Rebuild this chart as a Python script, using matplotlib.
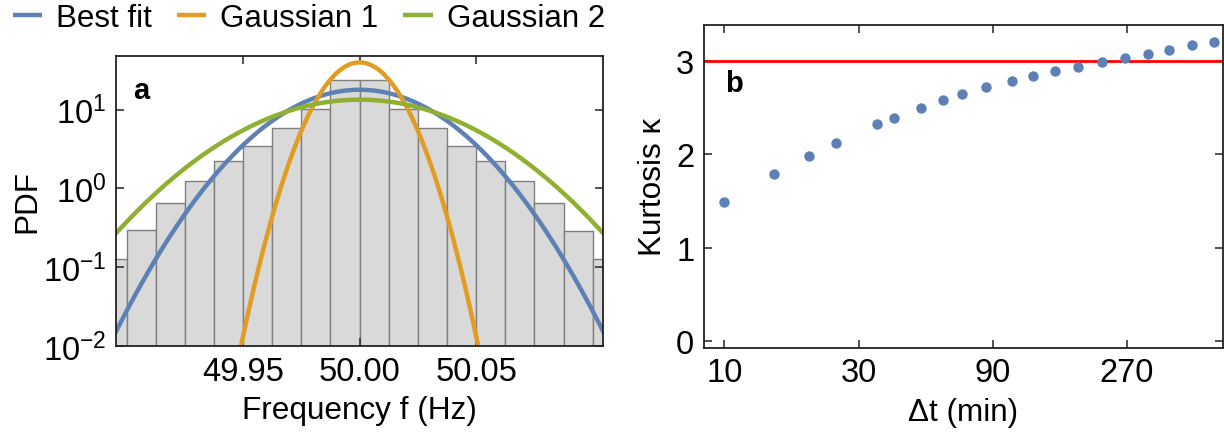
import numpy as np
import matplotlib
matplotlib.use("Agg")
import matplotlib.pyplot as plt
from matplotlib.ticker import FixedLocator, FixedFormatter, NullLocator

plt.rcParams['font.family'] = ['Liberation Sans', 'DejaVu Sans']
plt.rcParams['mathtext.default'] = 'regular'

# histogram of frequency (panel a)
f_center = 50.0
bin_width = 0.0125
pdf_heights = [0.128, 0.295, 0.66, 1.26, 2.24, 3.46, 5.84, 10.3, 23.8,
               23.8, 10.3, 5.78, 3.42, 2.21, 1.26, 0.65, 0.29, 0.128]

# fitted curves: (name, peak value, sigma)
fit_names = ['Best fit', 'Gaussian 1', 'Gaussian 2']
fit_peaks = [17.9, 39.8, 13.4]
fit_sigmas = [0.0278, 0.0125, 0.0374]
fit_colors = ['#5e81b5', '#e19c24', '#8fb032']

# kurtosis vs time window (panel b)
dt_min = [10, 15, 20, 25, 35, 40, 50, 60, 70, 85, 105, 125, 150, 180,
          220, 265, 320, 380, 460, 550]
kurtosis = [1.49, 1.787, 1.984, 2.127, 2.324, 2.396, 2.503, 2.585, 2.647,
            2.721, 2.789, 2.843, 2.897, 2.94, 2.99, 3.033, 3.08, 3.122,
            3.173, 3.212]
gauss_kurtosis = 3.0

fs_lab = 22.7
fs_tick = 23.5
fs_leg = 22.5

fig = plt.figure(figsize=(12.24, 4.35), dpi=100)
ax1 = fig.add_axes([0.0948, 0.2023, 0.398, 0.6667])
ax2 = fig.add_axes([0.5752, 0.1984, 0.4238, 0.7418])

# --- panel a
n = len(pdf_heights)
edges = f_center + bin_width * (np.arange(n + 1) - n / 2)
ax1.bar(edges[:-1], pdf_heights, width=bin_width, align='edge',
        color='#d9d9d9', edgecolor='#7f7f7f', linewidth=1.0, zorder=1)

fx = np.linspace(49.89, 50.11, 600)
for name, peak, sig, col in zip(fit_names, fit_peaks, fit_sigmas, fit_colors):
    fy = peak * np.exp(-(fx - f_center) ** 2 / (2 * sig ** 2))
    ax1.plot(fx, fy, color=col, lw=3.2, label=name, zorder=3,
             solid_capstyle='butt')

ax1.set_yscale('log')
ax1.set_xlim(49.8955, 50.1045)
ax1.set_ylim(0.01, 48)
ax1.yaxis.set_major_locator(FixedLocator([0.01, 0.1, 1, 10]))
ax1.yaxis.set_major_formatter(FixedFormatter(['$10^{-2}$', '$10^{-1}$', '$10^{0}$', '$10^{1}$']))
ax1.yaxis.set_minor_locator(NullLocator())
ax1.set_xticks([49.95, 50.00, 50.05])
ax1.set_xticklabels(['49.95', '50.00', '50.05'])
ax1.set_xlabel('Frequency f (Hz)', fontsize=fs_lab, labelpad=6)
ax1.set_ylabel('PDF', fontsize=fs_lab, labelpad=0)
ax1.text(0.035, 0.93, 'a', transform=ax1.transAxes, fontsize=21,
         fontweight='bold', va='top', ha='left')

leg = fig.legend(loc='upper left', bbox_to_anchor=(-0.005, 1.035), ncol=3,
                 fontsize=fs_leg, frameon=False, handlelength=0.95,
                 handletextpad=0.45, columnspacing=0.78, borderaxespad=0.2)

# --- panel b
ax2.plot(dt_min, kurtosis, 'o', color='#5e81b5', ms=7.5, mec='none', zorder=3)
ax2.axhline(gauss_kurtosis, color='#ff0000', lw=2, zorder=2)
ax2.set_xscale('log')
ax2.set_xlim(8.47, 591)
ax2.set_ylim(-0.075, 3.39)
ax2.xaxis.set_major_locator(FixedLocator([10, 30, 90, 270]))
ax2.xaxis.set_major_formatter(FixedFormatter(['10', '30', '90', '270']))
ax2.xaxis.set_minor_locator(NullLocator())
ax2.set_yticks([0, 1, 2, 3])
ax2.set_xlabel('Δt (min)', fontsize=fs_lab, labelpad=6)
ax2.set_ylabel('Kurtosis κ', fontsize=fs_lab, labelpad=6)
ax2.text(0.04, 0.865, 'b', transform=ax2.transAxes, fontsize=21,
         fontweight='bold', va='top', ha='left')

for ax in (ax1, ax2):
    ax.tick_params(which='both', direction='in', top=True, right=True,
                   length=6, width=1.2, labelsize=fs_tick, pad=7, color='#333333')
    for sp in ax.spines.values():
        sp.set_linewidth(1.3)
        sp.set_color('#222222')
        sp.set_zorder(5)

fig.savefig('out.png', dpi=100)
